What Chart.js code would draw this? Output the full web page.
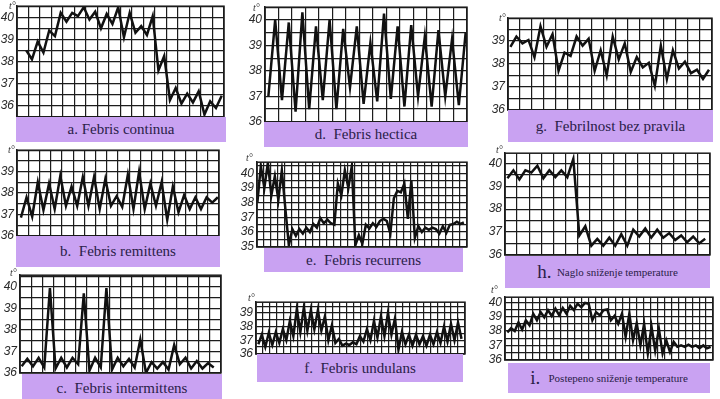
<!DOCTYPE html>
<html>
<head>
<meta charset="utf-8">
<script src="https://cdn.jsdelivr.net/npm/chart.js@4.4.0/dist/chart.umd.min.js"></script>
<style>
  body { margin: 0; background: #fff; width: 720px; height: 399px; overflow: hidden; position: relative; font-family: 'Liberation Serif', serif; }
  .wrap { position: absolute; }
  .tag { position: absolute; background: #c9a2f2; color: #2a2048; display: flex; align-items: center; justify-content: center; font-size: 15px; white-space: pre; }
  .tag .big { font-size: 19px; }
  .tag .small { font-size: 11px; }
  .deg { position: absolute; font: italic 10px 'Liberation Serif', serif; color: #333; }
</style>
</head>
<body>
<script>
// Temperature curves (deg C)
const tempA = [38.5, 38.1, 38.9, 38.4, 39.4, 39.15, 40.2, 39.8, 40.2, 40.05, 40.45, 39.9, 40.25, 39.5, 40.15, 39.7, 40.45, 39.1,
  40.2, 39.3, 39.6, 39.2, 40.05, 37.6, 38.25, 36.25, 36.8, 36.1, 36.55, 36.15, 36.65, 35.6, 36.2, 35.9, 36.45];
const tempB = [36.85, 37.8, 36.9, 38.5, 37.2, 38.45, 37.25, 38.8, 37.4, 38.3, 37.4, 38.75, 37.4, 38.75, 37.25, 38.65, 37.4, 37.85,
  37.35, 38.85, 37.25, 39.0, 37.25, 38.45, 37.4, 38.5, 36.75, 38.3, 37.1, 37.9, 37.25, 37.8, 37.25, 37.8, 37.55, 37.8];
const tempC = [36.3, 36.65, 36.3, 36.7, 36.25, 39.95, 36.2, 36.7, 36.25, 36.7, 36.4, 39.7, 36.1, 36.7, 36.25, 39.95, 36.15, 36.7,
  36.3, 36.65, 36.25, 37.55, 36.0, 36.5, 36.2, 36.5, 36.15, 37.3, 36.4, 36.7, 36.2, 36.55, 36.2, 36.45, 36.25];
const tempD = [37.0, 40.0, 36.85, 39.9, 36.4, 40.3, 36.5, 39.75, 36.85, 40.0, 36.5, 39.65, 37.35, 39.75, 36.7, 39.1, 36.8, 40.25,
  36.9, 39.75, 36.6, 39.8, 37.0, 39.35, 36.6, 39.6, 37.0, 39.25, 36.65, 39.5];
const tempE = [38.0, 40.5, 39.0, 40.7, 38.5, 39.8, 38.2, 40.2, 37.6, 35.1, 36.2, 35.75, 36.2, 35.9, 36.3, 36.0, 36.55, 36.3,
  36.95, 36.6, 36.85, 36.6, 36.5, 39.3, 38.5, 40.2, 39.0, 40.5, 35.1, 35.8, 35.2, 36.5, 36.25, 36.6, 36.35, 36.75, 36.9, 36.75,
  35.9, 38.3, 38.8, 38.7, 39.3, 36.9, 39.5, 35.6, 36.4, 36.0, 36.3, 36.15, 36.3, 36.2, 35.9, 36.4, 35.95, 36.5, 36.55, 36.7,
  36.55, 36.65];
const tempF = [36.7, 37.4, 36.5, 37.55, 36.65, 37.6, 36.8, 37.8, 37.0, 38.4, 37.3, 39.3, 37.6, 39.4, 37.7, 39.2, 37.8, 39.2,
  37.7, 38.75, 37.0, 38.1, 36.8, 37.1, 36.6, 36.75, 36.65, 36.85, 36.7, 37.3, 36.9, 37.8, 37.0, 38.4, 37.2, 38.75, 37.3, 39.0,
  37.4, 38.6, 36.3, 37.6, 36.7, 37.4, 36.6, 37.4, 36.7, 37.3, 36.6, 37.4, 36.7, 37.6, 36.8, 38.0, 36.9, 38.2, 37.0, 38.3, 37.1];
const tempG = [38.75, 39.2, 38.9, 39.05, 38.3, 39.65, 38.75, 39.3, 37.7, 38.5, 38.35, 39.2, 38.8, 39.1, 37.7, 38.6, 37.5, 39.2,
  38.2, 38.9, 37.65, 38.3, 37.85, 38.05, 37.05, 38.8, 37.35, 38.6, 37.8, 38.1, 37.6, 37.75, 37.35, 37.75];
const tempH = [39.35, 39.7, 39.3, 39.7, 39.6, 39.9, 39.35, 39.7, 39.4, 39.7, 39.4, 40.2, 36.85, 37.25, 36.4, 36.7, 36.4, 36.75,
  36.4, 36.9, 36.4, 37.1, 36.8, 37.15, 36.75, 37.1, 36.75, 36.95, 36.65, 36.85, 36.55, 36.8, 36.5, 36.7];
const tempI = [37.9, 38.2, 38.0, 38.6, 38.1, 38.75, 38.4, 39.2, 38.75, 39.3, 38.95, 39.45, 39.05, 39.55, 39.1, 39.6, 39.2, 39.75,
  39.45, 39.9, 39.65, 39.95, 39.9, 38.75, 39.3, 39.1, 39.45, 39.5, 38.75, 39.05, 38.5, 39.2, 37.6, 39.2, 37.35, 38.55, 37.0,
  38.5, 36.45, 38.3, 36.65, 38.15, 36.45, 37.35, 36.55, 37.25, 36.9, 37.0, 36.9, 37.05, 36.9, 37.0, 36.8, 37.0, 36.8, 36.9];

// Integer ticks that carry a label on each chart
const ticksFull = [36, 37, 38, 39, 40];
const ticksShort = [36, 37, 38, 39];
const ticksE = [35, 36, 37, 38, 39, 40];

// Where each chart sits on the page and the grid it uses
const panels = [
  { temps: tempA, ticks: ticksFull, x0: 17, x1: 224, y0: 6, y1: 117, ymin: 35.5, ymax: 40.5, cols: 18, first: 0.8, last: 17.8,
    tag: [16, 117, 210, 25], label: 'a. Febris continua', deg: [9, 0] },
  { temps: tempD, ticks: ticksFull, x0: 265, x1: 467, y0: 7, y1: 122, ymin: 36, ymax: 40.5, cols: 15, first: 0.25, last: 14.9,
    tag: [264, 122, 204, 25], label: 'd.  Febris hectica', deg: [253, 2] },
  { temps: tempG, ticks: ticksShort, x0: 508, x1: 712, y0: 18, y1: 110, ymin: 36, ymax: 40, cols: 17, first: 0.2, last: 16.75,
    tag: [508, 110, 205, 32], label: 'g.  Febrilnost bez pravila', deg: [499, 12] },
  { temps: tempB, ticks: ticksShort, x0: 17, x1: 219, y0: 150, y1: 236, ymin: 36, ymax: 40, cols: 18, first: 0.35, last: 17.9,
    tag: [16, 236, 204, 31], label: 'b.  Febris remittens', deg: [8, 144] },
  { temps: tempE, ticks: ticksE, x0: 257, x1: 467, y0: 162, y1: 247, ymin: 35, ymax: 40.75, cols: 30, first: 0.05, last: 29.55,
    tag: [264, 248, 199, 24], label: 'e.  Febris recurrens', deg: [246, 152] },
  { temps: tempH, ticks: ticksFull, x0: 505, x1: 710, y0: 153, y1: 255, ymin: 36, ymax: 40.45, cols: 17, first: 0.2, last: 16.6,
    tag: [505, 256, 205, 32], label: ['h.', '  Naglo sniženje temperature'], deg: [496, 144] },
  { temps: tempC, ticks: ticksFull, x0: 20, x1: 221, y0: 275, y1: 373, ymin: 36, ymax: 40.55, cols: 18, first: 0.15, last: 17.35,
    tag: [22, 374, 200, 28], label: 'c.  Febris intermittens', deg: [10, 267] },
  { temps: tempF, ticks: ticksShort, x0: 256, x1: 465, y0: 302, y1: 354, ymin: 36, ymax: 39.8, cols: 30, first: 0.33, last: 29.5,
    tag: [257, 354, 206, 28], label: 'f.  Febris undulans', deg: [248, 292] },
  { temps: tempI, ticks: ticksFull, x0: 505, x1: 713, y0: 297, y1: 360, ymin: 36, ymax: 40.35, cols: 30, first: 0.34, last: 29.66,
    tag: [508, 363, 202, 30], label: ['i.', '   Postepeno sniženje temperature'], deg: [491, 284] }
];

const INK = '#1c1c1c';

// outer frame of the grid (top / right edges are not always on a tick)
const framePlugin = {
  id: 'frame',
  afterDraw(chart) {
    const a = chart.chartArea, ctx = chart.ctx;
    ctx.save();
    ctx.strokeStyle = INK;
    ctx.lineWidth = 1.5;
    ctx.strokeRect(a.left, a.top, a.right - a.left, a.bottom - a.top);
    ctx.restore();
  }
};

function feverChart(p) {
  const padL = 30, padV = 10, padR = 4;
  const w = p.x1 - p.x0 + padL + padR;
  const h = p.y1 - p.y0 + padV * 2;
  const wrap = document.createElement('div');
  wrap.className = 'wrap';
  wrap.style.left = (p.x0 - padL) + 'px';
  wrap.style.top = (p.y0 - padV) + 'px';
  const cv = document.createElement('canvas');
  cv.width = w;
  cv.height = h;
  wrap.appendChild(cv);
  document.body.appendChild(wrap);

  const n = p.temps.length;
  const pts = p.temps.map((t, i) => ({ x: p.first + i * (p.last - p.first) / (n - 1), y: t }));

  new Chart(cv.getContext('2d'), {
    type: 'line',
    data: {
      datasets: [{
        data: pts,
        borderColor: '#111',
        borderWidth: 2.5,
        pointRadius: 0,
        tension: 0,
        fill: false
      }]
    },
    options: {
      responsive: false,
      animation: false,
      events: [],
      layout: { padding: { top: padV, bottom: padV, left: 0, right: padR } },
      plugins: { legend: { display: false }, tooltip: { enabled: false } },
      scales: {
        x: {
          type: 'linear', min: 0, max: p.cols,
          afterFit: s => { s.height = 0; },
          ticks: { display: false, stepSize: 1, includeBounds: false, autoSkip: false },
          grid: { color: INK, lineWidth: 1.2, drawTicks: false },
          border: { color: INK, width: 1.5 }
        },
        y: {
          min: p.ymin, max: p.ymax,
          afterFit: s => { s.width = padL; },
          ticks: {
            stepSize: 0.5, includeBounds: false, autoSkip: false, padding: 3,
            color: '#2a2a2a',
            font: { family: 'Liberation Sans', style: 'italic', size: 12 },
            callback: v => (p.ticks.includes(v) ? String(v) : '')
          },
          grid: { color: INK, lineWidth: 1.2, drawTicks: false },
          border: { color: INK, width: 1.5 }
        }
      }
    },
    plugins: [framePlugin]
  });

  // purple caption box
  const tag = document.createElement('div');
  tag.className = 'tag';
  tag.style.left = p.tag[0] + 'px';
  tag.style.top = p.tag[1] + 'px';
  tag.style.width = p.tag[2] + 'px';
  tag.style.height = p.tag[3] + 'px';
  if (Array.isArray(p.label)) {
    const a = document.createElement('span');
    a.className = 'big';
    a.textContent = p.label[0];
    const b = document.createElement('span');
    b.className = 'small';
    b.textContent = p.label[1];
    tag.appendChild(a);
    tag.appendChild(b);
  } else {
    tag.textContent = p.label;
  }
  document.body.appendChild(tag);

  const deg = document.createElement('div');
  deg.className = 'deg';
  deg.style.left = p.deg[0] + 'px';
  deg.style.top = p.deg[1] + 'px';
  deg.textContent = 't°';
  document.body.appendChild(deg);
}

panels.forEach(feverChart);
</script>
</body>
</html>
